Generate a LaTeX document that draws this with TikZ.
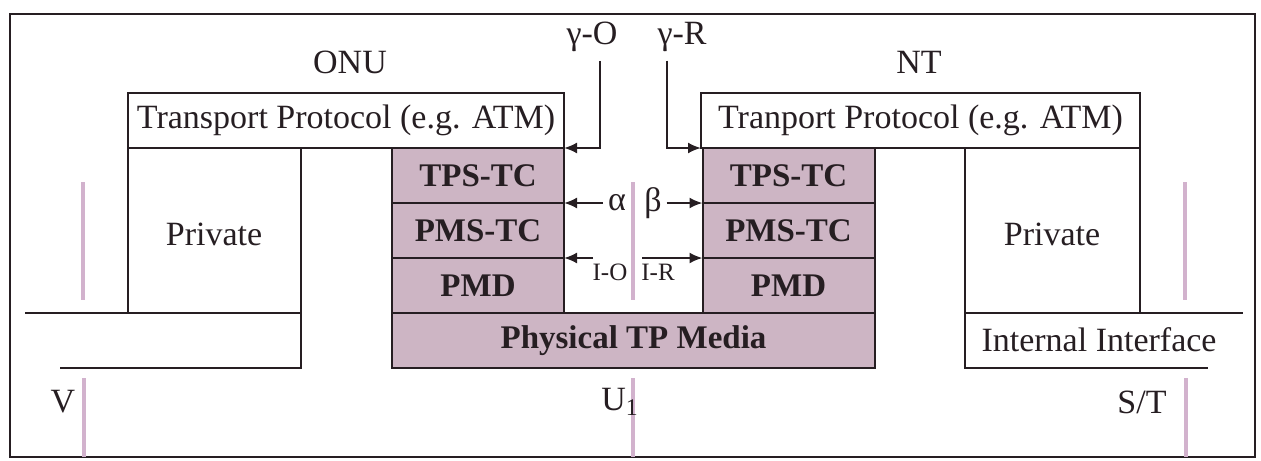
\documentclass[tikz,border=0pt]{standalone}
\usepackage{fontspec}
\setmainfont{Liberation Serif}
\usepackage{xcolor}
\usetikzlibrary{arrows.meta, positioning}

\definecolor{mauve}{RGB}{205,181,196}
\definecolor{refpink}{RGB}{210,178,205}
\definecolor{ink}{RGB}{38,30,34}

\begin{document}
\begin{tikzpicture}[
  x=0.5pt, y=-0.5pt,
  color=ink,
  line width=1pt,
  layer/.style={
    rectangle,
    draw,
    fill=mauve,
    inner sep=0pt,
    outer sep=0pt,
    minimum width=86pt,
    minimum height=27.5pt,
    font=\fontsize{16.5}{18}\selectfont\bfseries
  },
  proto/.style={
    rectangle,
    draw,
    inner sep=0pt,
    outer sep=0pt,
    minimum height=27.5pt,
    font=\fontsize{17}{19}\selectfont
  },
  label/.style={
    inner sep=0pt,
    font=\fontsize{17}{19}\selectfont
  },
  smalllabel/.style={
    inner sep=0pt,
    font=\fontsize{12.5}{14}\selectfont
  },
  refline/.style={
    draw=refpink,
    line width=2pt
  },
  arrow/.style={
    -{Latex[length=6.5pt,width=5.5pt]}
  }
]
\useasboundingbox (0,0) rectangle (1261,460);

% =========================================================
% Frame
% =========================================================
\draw (10,14) rectangle (1255,457);

% =========================================================
% ONU side
% =========================================================
\node[label] (onu) at (350,62) {ONU};
\node[proto, minimum width=218pt] (tpL) at (346,120.5) {Transport Protocol (e.g. ATM)};

\node[layer] (tpsL) at (478,175.5) {TPS-TC};
\node[layer, below=0pt of tpsL] (pmsL) {PMS-TC};
\node[layer, below=0pt of pmsL] (pmdL) {PMD};

% private part and V interface
\draw (128,148) -- (128,313);
\draw (301,148) -- (301,368) -- (60,368);
\draw (25,313) -- (301,313);
\node[label] (privL) at (214,234) {Private};

% =========================================================
% NT side
% =========================================================
\node[label] (nt) at (919,62) {NT};
\node[proto, minimum width=219.5pt] (tpR) at (920.5,120.5) {Tranport Protocol (e.g. ATM)};

\node[layer] (tpsR) at (788.5,175.5) {TPS-TC};
\node[layer, below=0pt of tpsR] (pmsR) {PMS-TC};
\node[layer, below=0pt of pmsR] (pmdR) {PMD};

% private part and internal interface
\draw (1140,148) -- (1140,313);
\draw (965,148) -- (965,368) -- (1208,368);
\draw (965,313) -- (1243,313);
\node[label] (privR) at (1052,234) {Private};
\node[label] (intf) at (1099,340) {Internal Interface};

% =========================================================
% Shared media
% =========================================================
\node[layer, minimum width=241.5pt] (media) at (633.5,340.5) {Physical TP Media};

% =========================================================
% Reference points
% =========================================================
\draw[refline] (83,182) -- (83,300);
\draw[refline] (84,378) -- (84,457);
\draw[refline] (633,182) -- (633,300);
\draw[refline] (633,378) -- (633,457);
\draw[refline] (1185,182) -- (1185,300);
\draw[refline] (1186,378) -- (1186,457);

\node[label] (vref) at (63,402) {V};
\node[label] (uref) at (620,402) {U\textsubscript{1}};
\node[label] (stref) at (1142,402) {S/T};

% =========================================================
% Interface arrows
% =========================================================
\node[label] (gammaO) at (592,37) {γ-O};
\node[label] (gammaR) at (682,37) {γ-R};
\draw[arrow] ([xshift=4pt,yshift=-4pt]gammaO.south) |- (tpL.south east);
\draw[arrow] ([xshift=-7.5pt,yshift=-4pt]gammaR.south) |- (tpR.south west);

\node[label] (alpha) at (617,203) {α};
\node[label] (beta) at (653,203) {β};
\draw[arrow] ([xshift=-2pt]alpha.west) -- (pmsL.north east);
\draw[arrow] ([xshift=2pt]beta.east) -- (pmsR.north west);

\node[smalllabel] (iO) at (610,272) {I-O};
\node[smalllabel] (iR) at (658,272) {I-R};
\coordinate (ioTail) at (593,258);
\coordinate (irTail) at (642,258);
\draw[arrow] (ioTail) -- (pmdL.north east);
\draw[arrow] (irTail) -- (pmdR.north west);

\end{tikzpicture}
\end{document}
